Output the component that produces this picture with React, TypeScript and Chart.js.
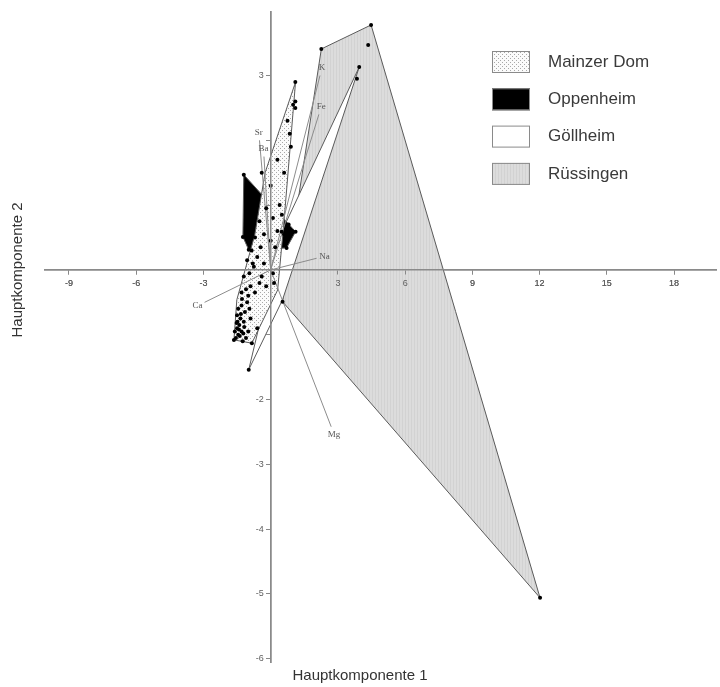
import React, { useEffect, useRef } from 'react';
import { Chart, registerables } from 'chart.js';

Chart.register(...registerables);

// ---------- data ----------
const xTickValues = [-9, -6, -3, 3, 6, 9, 12, 15, 18];
const yTickValues = [3, 2, 1, -1, -2, -3, -4, -5, -6];
const yTickShown = [true, false, false, false, true, true, true, true, true];

const groupNames = ['Mainzer Dom', 'Oppenheim', 'Göllheim', 'Rüssingen'];

// hull outlines (closed)
const mainzerX = [1.11, 0.58, 0.31, -0.84, -1.64, -1.51, -0.71, -0.25, 1.11];
const mainzerY = [2.9, 0.69, -0.31, -1.13, -1.08, -0.46, 0.54, 1.5, 2.9];

const oppenheimX = [-1.2, 1.11, 0.71, -0.98, -1.24, -1.2];
const oppenheimY = [1.47, 0.59, 0.34, 0.31, 0.51, 1.47];

const goellheimX = [3.95, 0.53, -0.98, 0.49, 3.95];
const goellheimY = [3.13, -0.46, -1.54, 0.59, 3.13];

const ruessingenX = [2.26, 4.48, 12.02, 0.53, 2.26];
const ruessingenY = [3.41, 3.78, -5.06, -0.49, 3.41];

// loading vectors (variables)
const loadingNames = ['K', 'Fe', 'Sr', 'Ba', 'Na', 'Ca', 'Mg'];
const loadingX = [2.2, 2.15, -0.5, -0.3, 2.05, -2.95, 2.7];
const loadingY = [3.0, 2.4, 2.0, 1.75, 0.18, -0.5, -2.42];

// sample scores
const sampleX = [
  -1.55, -1.45, -1.5, -1.4, -1.3, -1.35, -1.5, -1.2, -1.25, -1.1, -1.0, -1.45, -1.3, -1.15, -1.05, -0.9, -1.6, -1.38,
  -1.3, -1.1, -0.9, -0.7, -0.5, -1.2, -0.95, -0.75, -0.4, -0.2, -1.05, -0.6, -0.3, 0.1, -0.85, -0.45, 0.15,
  -0.7, -0.3, 0.0, 0.3, 0.6, -0.5, 0.1, 0.5, 0.8, -0.2, 0.4, 0.95, 0.2,
  0.0, 0.6, 0.9, 0.75, 1.0, 1.1, 0.3, -0.4, 0.85, 1.1, 1.1,
  -1.2, 1.11, 0.71, -0.98, -1.24, -0.84, -1.64,
  2.26, 4.48, 4.35, 12.02, 0.53, 3.95, 3.85, -0.98, 0.49, -0.6, -1.0, -0.8,
  -1.48, -1.42, -1.33, -1.22, -1.52, -1.18, -0.95, -1.28
];
const sampleY = [
  -1.05, -1.0, -0.9, -0.85, -0.95, -0.75, -0.7, -0.8, -1.1, -1.05, -0.95, -0.6, -0.55, -0.65, -0.5, -0.75, -0.95, -1.02,
  -0.35, -0.3, -0.25, -0.35, -0.2, -0.1, -0.05, 0.05, -0.1, -0.25, 0.15, 0.2, 0.1, -0.05, 0.3, 0.35, -0.2,
  0.5, 0.55, 0.45, 0.6, 0.55, 0.75, 0.8, 0.85, 0.7, 0.95, 1.0, 0.6, 0.35,
  1.3, 1.5, 1.9, 2.3, 2.55, 2.9, 1.7, 1.5, 2.1, 2.6, 2.5,
  1.47, 0.59, 0.34, 0.31, 0.51, -1.13, -1.08,
  3.41, 3.78, 3.47, -5.06, -0.49, 3.13, 2.95, -1.54, 0.59, -0.9, -0.4, 0.1,
  -0.8, -0.92, -0.68, -0.98, -0.82, -0.88, -0.6, -0.45
];

// ---------- helpers ----------
const toPoints = (xs: number[], ys: number[]) => xs.map((x, i) => ({ x, y: ys[i] }));

function makeDotPattern(): CanvasPattern | string {
  const c = document.createElement('canvas');
  c.width = 4;
  c.height = 4;
  const g = c.getContext('2d');
  if (!g) return '#eeeeee';
  g.fillStyle = '#fbfbfb';
  g.fillRect(0, 0, 4, 4);
  g.fillStyle = '#a8a8a8';
  g.fillRect(0, 0, 1, 1);
  g.fillRect(2, 2, 1, 1);
  return g.createPattern(c, 'repeat') || '#eeeeee';
}

function makeGrayPattern(): CanvasPattern | string {
  const c = document.createElement('canvas');
  c.width = 3;
  c.height = 3;
  const g = c.getContext('2d');
  if (!g) return '#d8d8d8';
  g.fillStyle = '#dcdcdc';
  g.fillRect(0, 0, 3, 3);
  g.fillStyle = '#d2d2d2';
  g.fillRect(0, 0, 1, 3);
  return g.createPattern(c, 'repeat') || '#d8d8d8';
}

export default function App() {
  const canvasRef = useRef<HTMLCanvasElement | null>(null);

  useEffect(() => {
    document.body.style.margin = '0';
    const canvas = canvasRef.current;
    if (!canvas) return;

    const dotPattern = makeDotPattern();
    const grayPattern = makeGrayPattern();
    const groupFills = [dotPattern, '#000000', '#ffffff', grayPattern];

    const hullDs = (label: string, xs: number[], ys: number[], fill: any, order: number) => ({
      label,
      data: toPoints(xs, ys),
      showLine: true,
      fill: 'shape',
      backgroundColor: fill,
      borderColor: '#5a5a5a',
      borderWidth: 1,
      pointRadius: 0,
      tension: 0,
      order,
    });

    const loadingDs = loadingNames.map((n, i) => ({
      label: 'v_' + n,
      data: [{ x: 0, y: 0 }, { x: loadingX[i], y: loadingY[i] }],
      showLine: true,
      fill: false,
      borderColor: '#8c8c8c',
      borderWidth: 1,
      pointRadius: 0,
      order: 3,
    }));

    const overlayPlugin = {
      id: 'overlay',
      afterDatasetsDraw(chart: any) {
        // axes are drawn over the filled hulls, as in the original figure
        chart.scales.x.draw(chart.chartArea);
        chart.scales.y.draw(chart.chartArea);
      },
      afterDraw(chart: any) {
        const ctx = chart.ctx as CanvasRenderingContext2D;
        const xs = chart.scales.x;
        const ys = chart.scales.y;
        ctx.save();
        const ox = xs.getPixelForValue(0);
        const oy = ys.getPixelForValue(0);
        // y tick labels (left of the axis)
        ctx.fillStyle = '#5e5e5e';
        ctx.font = '9px "Liberation Sans"';
        ctx.textAlign = 'right';
        ctx.textBaseline = 'middle';
        yTickValues.forEach((v, i) => {
          if (!yTickShown[i]) return;
          ctx.fillText(String(v), ox - 7, ys.getPixelForValue(v));
        });
        // loading labels
        ctx.fillStyle = '#555555';
        ctx.font = '9px "Liberation Serif"';
        ctx.textAlign = 'center';
        ctx.textBaseline = 'middle';
        loadingNames.forEach((n, i) => {
          const px = xs.getPixelForValue(loadingX[i]);
          const py = ys.getPixelForValue(loadingY[i]);
          const dx = px - ox;
          const dy = py - oy;
          const len = Math.hypot(dx, dy) || 1;
          ctx.fillText(n, px + (dx / len) * 8, py + (dy / len) * 8);
        });
        // axis titles
        ctx.fillStyle = '#333333';
        ctx.font = '15px "Liberation Sans"';
        ctx.textAlign = 'center';
        ctx.textBaseline = 'middle';
        ctx.fillText('Hauptkomponente 1', 360, 676);
        ctx.save();
        ctx.translate(18, 270);
        ctx.rotate(-Math.PI / 2);
        ctx.fillText('Hauptkomponente 2', 0, 0);
        ctx.restore();
        // legend
        const lx = 492;
        const ly0 = 51;
        const step = 37.3;
        groupNames.forEach((name, i) => {
          const y = ly0 + i * step;
          ctx.fillStyle = groupFills[i] as any;
          ctx.fillRect(lx, y, 38, 22);
          ctx.strokeStyle = '#8a8a8a';
          ctx.lineWidth = 1;
          ctx.strokeRect(lx + 0.5, y + 0.5, 37, 21);
          ctx.fillStyle = '#3a3a3a';
          ctx.font = '17px "Liberation Sans"';
          ctx.textAlign = 'left';
          ctx.textBaseline = 'middle';
          ctx.fillText(name, 548, y + 11);
        });
        ctx.restore();
      },
    };

    const chart = new Chart(canvas, {
      type: 'scatter',
      data: {
        datasets: [
          {
            label: 'samples',
            data: toPoints(sampleX, sampleY),
            pointRadius: 2,
            pointBackgroundColor: '#000000',
            pointBorderColor: '#000000',
            pointBorderWidth: 0,
            showLine: false,
            order: 1,
          } as any,
          ...loadingDs,
          hullDs(groupNames[0], mainzerX, mainzerY, groupFills[0], 6),
          hullDs(groupNames[1], oppenheimX, oppenheimY, groupFills[1], 7),
          hullDs(groupNames[2], goellheimX, goellheimY, groupFills[2], 8),
          hullDs(groupNames[3], ruessingenX, ruessingenY, groupFills[3], 9),
        ],
      },
      options: {
        responsive: false,
        animation: false,
        devicePixelRatio: 1,
        layout: { padding: { left: 45, right: 0, top: 12, bottom: 25 } },
        plugins: { legend: { display: false }, tooltip: { enabled: false } },
        scales: {
          x: {
            type: 'linear',
            position: { y: 0 } as any,
            min: -10.07,
            max: 19.87,
            afterBuildTicks: (s: any) => {
              s.ticks = xTickValues.map((v) => ({ value: v }));
            },
            ticks: {
              color: '#5e5e5e',
              font: { size: 9, family: 'Liberation Sans' },
              padding: 4,
              autoSkip: false,
              maxRotation: 0,
              callback: (v: any) => String(v),
            },
            grid: { display: true, drawOnChartArea: false, drawTicks: true, tickLength: 4, color: '#888888' },
            border: { display: true, color: '#8a8a8a', width: 1.5 },
          },
          y: {
            type: 'linear',
            position: { x: 0 } as any,
            min: -6.05,
            max: 3.98,
            afterBuildTicks: (s: any) => {
              s.ticks = yTickValues.map((v) => ({ value: v }));
            },
            ticks: { display: false },
            grid: { display: true, drawOnChartArea: false, drawTicks: true, tickLength: 4, color: '#888888' },
            border: { display: true, color: '#8a8a8a', width: 1.5 },
          },
        },
      } as any,
      plugins: [overlayPlugin],
    });

    return () => chart.destroy();
  }, []);

  return (
    <div style={{ width: 720, height: 687, background: '#ffffff' }}>
      <canvas ref={canvasRef} width={720} height={687} style={{ display: 'block' }} />
    </div>
  );
}
